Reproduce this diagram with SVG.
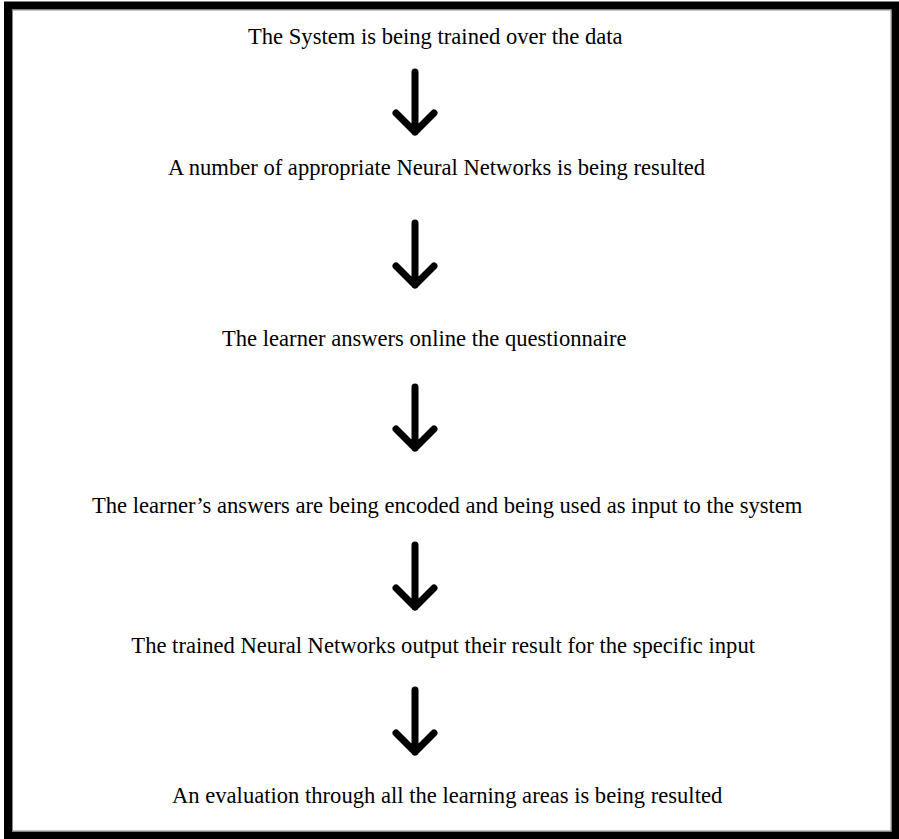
<svg xmlns="http://www.w3.org/2000/svg" width="899" height="839" viewBox="0 0 899 839">
  <style>
    .t { font-family: "Liberation Serif", "Times New Roman", serif; font-size: 22.6px; fill: #000; }
    .arr { fill: none; stroke: #000; stroke-width: 7; stroke-linecap: round; stroke-linejoin: round; }
  </style>
  <rect x="0" y="0" width="899" height="839" fill="#fff"/>
  <rect x="8" y="5.5" width="887.5" height="830" fill="none" stroke="#000" stroke-width="8"/>
  <rect x="12.5" y="10" width="878.5" height="821" fill="none" stroke="#888" stroke-width="1"/>
  <g id="node1"><text class="t" x="248" y="44">The System is being trained over the data</text></g>
  <g id="node2"><text class="t" x="168" y="175">A number of appropriate Neural Networks is being resulted</text></g>
  <g id="node3"><text class="t" x="222" y="346">The learner answers online the questionnaire</text></g>
  <g id="node4"><text class="t" x="92" y="513">The learner’s answers are being encoded and being used as input to the system</text></g>
  <g id="node5"><text class="t" x="755" y="653" text-anchor="end">The trained Neural Networks output their result for the specific input</text></g>
  <g id="node6"><text class="t" x="172" y="803">An evaluation through all the learning areas is being resulted</text></g>
  <g id="connectors">
    <path class="arr" d="M415 72 V132 M396 113 L415 132 L434 113"/>
    <path class="arr" d="M415 223 V285 M396 266 L415 285 L434 266"/>
    <path class="arr" d="M415 387 V448 M396 429 L415 448 L434 429"/>
    <path class="arr" d="M415 545 V607 M396 588 L415 607 L434 588"/>
    <path class="arr" d="M415 690 V752 M396 733 L415 752 L434 733"/>
  </g>
</svg>
